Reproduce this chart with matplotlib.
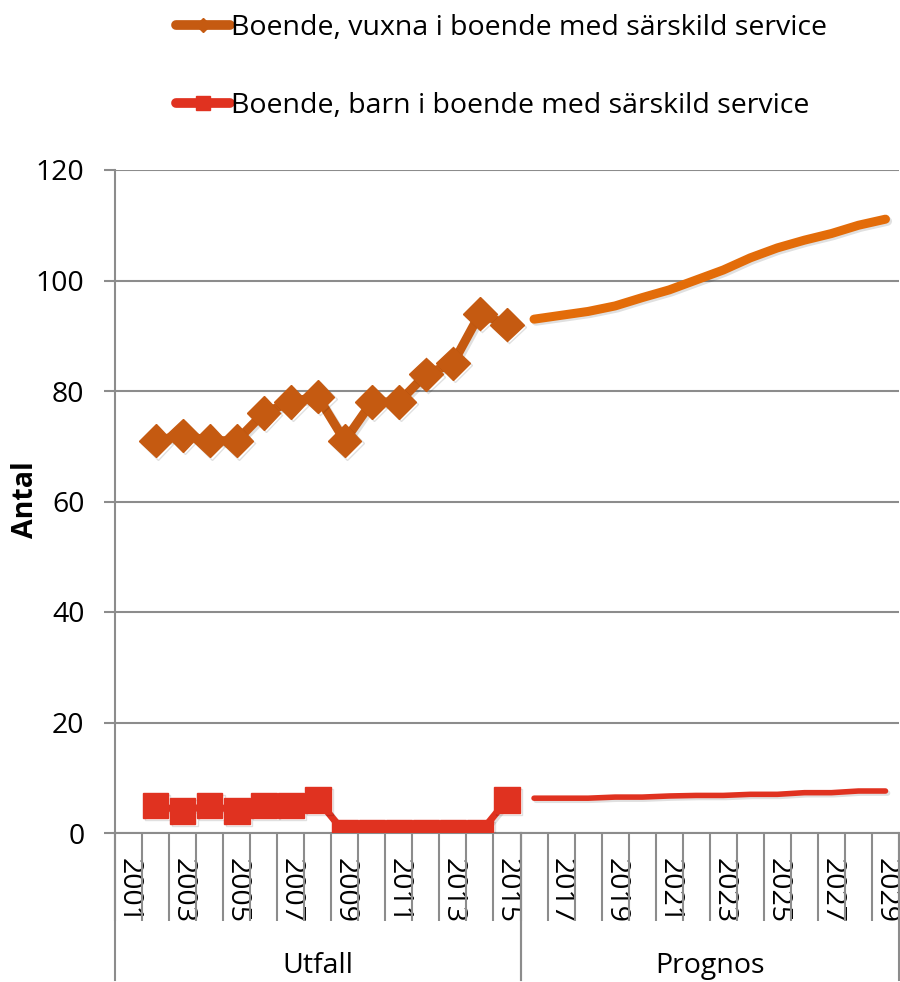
import matplotlib
matplotlib.use("Agg")
import matplotlib.pyplot as plt
import matplotlib.patheffects as pe
from matplotlib.lines import Line2D
import matplotlib.transforms as mtransforms

plt.rcParams['font.family'] = ['Open Sans', 'DejaVu Sans']

years = list(range(2001, 2030))
utfall_years = list(range(2002, 2016))
prognos_years = list(range(2016, 2030))

vuxna_utfall = [71, 72, 71, 71, 76, 78, 79, 71, 78, 78, 83, 85, 94, 92]
barn_utfall = [5, 4, 5, 4, 5, 5, 6, 0, 0, 0, 0, 0, 0, 6]
vuxna_prognos = [93.0, 93.7, 94.4, 95.4, 96.9, 98.3, 100.1, 101.9, 104.1, 105.9, 107.3, 108.5, 110.0, 111.1]
barn_prognos = [6.3, 6.3, 6.3, 6.5, 6.5, 6.7, 6.8, 6.8, 7.0, 7.0, 7.3, 7.3, 7.6, 7.6]

groups = ["Utfall", "Prognos"]
group_bounds = [(2001, 2015), (2016, 2029)]
label_vuxna = "Boende, vuxna i boende med särskild service"
label_barn = "Boende, barn i boende med särskild service"

c_vuxna = '#C55A11'
c_vuxna_p = '#E36C09'
c_barn = '#E03220'
grid_c = '#8C8C8C'
FS = 20.5

fig = plt.figure(figsize=(9.0, 9.82), dpi=100)
ax = fig.add_axes([115/900, 1-833/982, (899-115)/900, (833-170)/982])

def xi(ys):
    return [y - years[0] for y in ys]

shadow = [pe.SimpleLineShadow(offset=(1.5, -1.5), alpha=0.12, shadow_color='black'), pe.Normal()]

ax.plot(xi(utfall_years), vuxna_utfall, color=c_vuxna, lw=6.5, marker='D', ms=17,
        solid_joinstyle='miter', path_effects=shadow, zorder=4)
ax.plot(xi(prognos_years), vuxna_prognos, color=c_vuxna_p, lw=6.5, solid_capstyle='round',
        path_effects=shadow, zorder=4)
ax.plot(xi(utfall_years), barn_utfall, color=c_barn, lw=5, marker='s', ms=18.5,
        path_effects=shadow, zorder=4)
ax.plot(xi(prognos_years), barn_prognos, color=c_barn, lw=4, solid_capstyle='round',
        path_effects=shadow, zorder=4)

n = len(years)
ax.set_xlim(-0.5, n - 0.5)
ax.set_ylim(0, 120)
ax.set_yticks(range(0, 121, 20))
ax.yaxis.grid(True, color=grid_c, lw=1.5)
ax.set_axisbelow(True)
for s in ['top', 'right']:
    ax.spines[s].set_visible(False)
for s in ['left', 'bottom']:
    ax.spines[s].set_color(grid_c)
    ax.spines[s].set_linewidth(1.5)
ax.tick_params(axis='y', length=8, width=1.5, color=grid_c, labelsize=FS, pad=14)

# x axis: labels every other category, tick marks at boundaries
ax.set_xticks(range(0, n, 2))
ax.set_xticklabels([str(years[i]) for i in range(0, n, 2)], rotation=-90, fontsize=FS)
ax.tick_params(axis='x', which='major', length=0, pad=18)
ax.set_xticks([i + 0.5 for i in range(-1, n)], minor=True)
ax.tick_params(axis='x', which='minor', length=63, width=1.5, color=grid_c, direction='out')
for lab in ax.get_xticklabels():
    lab.set_va('top')

trans = mtransforms.blended_transform_factory(ax.transData, ax.transAxes)
y_bottom = -(980 - 833) / 663
for (a, b), g in zip(group_bounds, groups):
    for xb in (a - years[0] - 0.5, b - years[0] + 0.5):
        ax.plot([xb, xb], [0, y_bottom], transform=trans, color=grid_c, lw=1.5, clip_on=False)
    ax.text((a + b) / 2 - years[0], -(966 - 833) / 663, g, transform=trans,
            ha='center', va='center', fontsize=FS)

ax.set_ylabel("Antal", fontsize=FS, fontweight='bold')
ax.yaxis.set_label_coords((40 - 115) / 784, (833 - 500) / 663)

handles = [Line2D([], [], color=c_vuxna, lw=7, marker='D', ms=7, solid_capstyle='round'),
           Line2D([], [], color=c_barn, lw=7, marker='s', ms=10, solid_capstyle='round')]
fig.legend(handles, [label_vuxna, label_barn], loc='upper left', bbox_to_anchor=(150/900, 1.012),
           frameon=False, fontsize=FS, handlelength=1.9, handletextpad=0.05,
           labelspacing=1.75, markerfirst=True)

fig.savefig("out.png", dpi=100)
